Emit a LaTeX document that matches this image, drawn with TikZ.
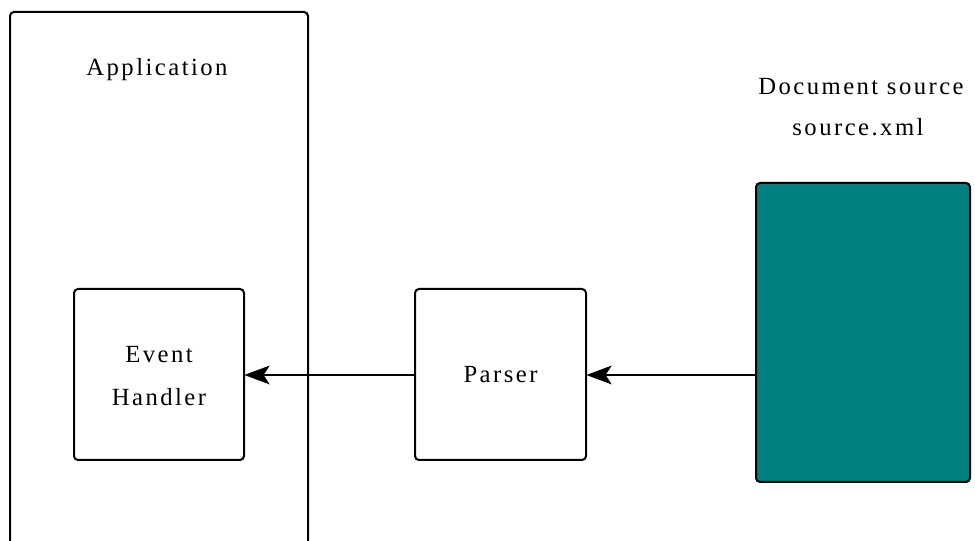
\documentclass[tikz,border=0pt]{standalone}
\usepackage{fontspec}
\setmainfont{Liberation Serif}[LetterSpace=10]
\usetikzlibrary{arrows.meta}
\definecolor{tealfill}{HTML}{008080}
\tikzset{
  box/.style={draw=black, line width=1.5pt, rounded corners=3pt},
  lbl/.style={font=\fontsize{18.5}{22}\selectfont, inner sep=0pt, anchor=center},
  conn/.style={line width=1.5pt, -{Stealth[length=19pt,width=14pt,inset=4.5pt]}}
}
\begin{document}
\begin{tikzpicture}[x=0.75pt,y=-0.75pt]
\useasboundingbox (0,0) rectangle (975,541);
\clip (0,0) rectangle (975,541);
\fill[white] (0,0) rectangle (975,541);
% Application container
\draw[box] (10,12) rectangle (308,580);
\node[lbl] (app) at (157,70) {Application};
% Event handler
\draw[box] (74,289) rectangle (244,460);
\node[inner sep=0pt, minimum width=127.5pt, minimum height=128.25pt] (eh) at (159,374.5) {};
\node[lbl] (ev1) at (159,355) {Event};
\node[lbl] (ev2) at (159,397) {Handler};
% Parser
\draw[box] (415,289) rectangle (586,460);
\node[inner sep=0pt, minimum width=128.25pt, minimum height=128.25pt] (parser) at (500.5,374.5) {};
\node[lbl] (ptxt) at (500.5,375) {Parser};
% Document source
\draw[box, fill=tealfill] (756,183) rectangle (970,482);
\node[inner sep=0pt, minimum width=160.5pt, minimum height=224.25pt] (doc) at (863,332.5) {};
\node[lbl] (dtitle) at (861,87) {Document source};
\node[lbl] (dfile) at (858,127) {source.xml};
% connectors
\draw[conn] (doc.west |- 0,375) -- (parser.east |- 0,375);
\draw[conn] (parser.west |- 0,375) -- (eh.east |- 0,375);
\end{tikzpicture}
\end{document}
